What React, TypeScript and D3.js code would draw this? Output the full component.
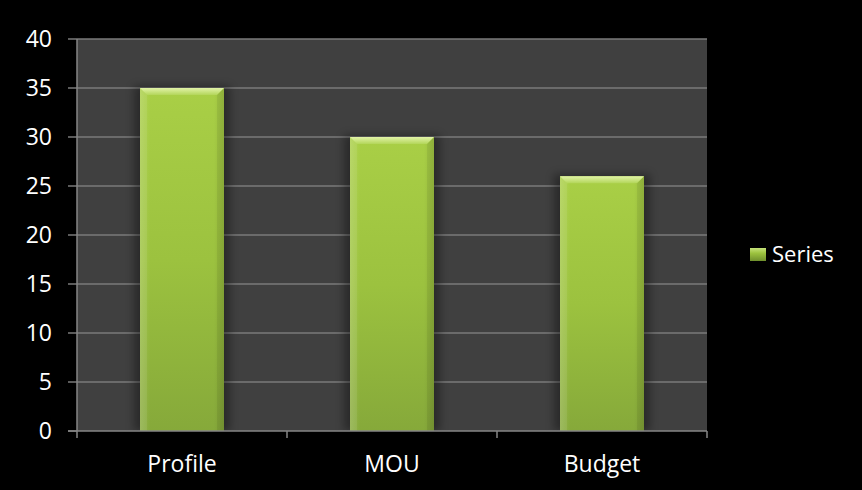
import React from "react";
import * as d3 from "d3";

const categories = ["Profile", "MOU", "Budget"];
const values = [35, 30, 26];
const yTicks = [0, 5, 10, 15, 20, 25, 30, 35, 40];
const seriesName = "Series";

const W = 862;
const H = 490;
const plot = { left: 77, right: 707, top: 39, bottom: 431 };
const FONT = "'Open Sans', Lato, sans-serif";

export default function App() {
  const x = d3
    .scaleBand<string>()
    .domain(categories)
    .range([plot.left, plot.right])
    .paddingInner(0.6)
    .paddingOuter(0.3);
  const band = d3.scaleBand<string>().domain(categories).range([plot.left, plot.right]);
  const y = d3.scaleLinear().domain([0, 40]).range([plot.bottom, plot.top]);
  const boundaries = [plot.left, ...categories.map((c) => (band(c) as number) + band.bandwidth())];

  return (
    <div style={{ position: "absolute", left: 0, top: 0, width: W, height: H, background: "#000" }}>
      <svg width={W} height={H} style={{ display: "block" }}>
        <defs>
          <linearGradient id="barGrad" x1="0" y1="0" x2="0" y2="1">
            <stop offset="0" stopColor="#a9cf46" />
            <stop offset="0.5" stopColor="#9cc23f" />
            <stop offset="1" stopColor="#86a93a" />
          </linearGradient>
          <linearGradient id="sideGrad" x1="0" y1="0" x2="1" y2="0">
            <stop offset="0" stopColor="#ffffff" stopOpacity="0.12" />
            <stop offset="0.12" stopColor="#ffffff" stopOpacity="0" />
            <stop offset="0.88" stopColor="#000000" stopOpacity="0" />
            <stop offset="1" stopColor="#000000" stopOpacity="0.1" />
          </linearGradient>
          <linearGradient id="topGrad" x1="0" y1="0" x2="0" y2="1">
            <stop offset="0" stopColor="#e2f3a8" />
            <stop offset="1" stopColor="#b3d65a" />
          </linearGradient>
          <filter id="shadow" x="-30%" y="-10%" width="160%" height="120%">
            <feGaussianBlur stdDeviation="4" />
          </filter>
          <linearGradient id="legGrad" x1="0" y1="0" x2="0" y2="1">
            <stop offset="0" stopColor="#c6e27a" />
            <stop offset="0.4" stopColor="#9cc23f" />
            <stop offset="1" stopColor="#6f8f2c" />
          </linearGradient>
        </defs>
        <rect x={plot.left} y={plot.top} width={plot.right - plot.left} height={plot.bottom - plot.top} fill="#404040" />
        {yTicks.map((t) => (
          <g key={t}>
            {t > 0 && (
              <line x1={plot.left} x2={plot.right} y1={y(t)} y2={y(t)} stroke="#7a7a7a" strokeWidth={1.5} />
            )}
            <line x1={plot.left - 9} x2={plot.left} y1={y(t)} y2={y(t)} stroke="#7a7a7a" strokeWidth={1.5} />
            <text x={52} y={y(t)} dy="0.36em" textAnchor="end" fill="#ffffff" fontFamily={FONT} fontSize={23}>
              {t}
            </text>
          </g>
        ))}
        {categories.map((c, i) => {
          const bx = x(c) as number;
          const bw = x.bandwidth();
          const by = y(values[i]);
          const bh = plot.bottom - by;
          const bev = 7;
          return (
            <g key={c}>
              <rect x={bx - 6} y={by - 2} width={bw + 12} height={bh + 2} fill="#000" opacity={0.35} filter="url(#shadow)" />
              <rect x={bx} y={by} width={bw} height={bh} fill="url(#barGrad)" />
              <rect x={bx} y={by} width={bw} height={bh} fill="url(#sideGrad)" />
              <path
                d={`M${bx},${by} L${bx + bw},${by} L${bx + bw - bev},${by + bev} L${bx + bev},${by + bev} Z`}
                fill="url(#topGrad)"
              />
              <path d={`M${bx},${by} L${bx + bev},${by + bev} L${bx + bev},${plot.bottom} L${bx},${plot.bottom} Z`} fill="#ffffff" opacity={0.08} />
              <path d={`M${bx + bw},${by} L${bx + bw - bev},${by + bev} L${bx + bw - bev},${plot.bottom} L${bx + bw},${plot.bottom} Z`} fill="#000000" opacity={0.06} />
              <text
                x={(band(c) as number) + band.bandwidth() / 2}
                y={472}
                textAnchor="middle"
                fill="#ffffff"
                fontFamily={FONT}
                fontSize={23}
              >
                {c}
              </text>
            </g>
          );
        })}
        <line x1={plot.left} x2={plot.left} y1={plot.top} y2={plot.bottom} stroke="#868686" strokeWidth={1.5} />
        <line x1={plot.left - 9} x2={plot.right} y1={plot.bottom} y2={plot.bottom} stroke="#868686" strokeWidth={1.5} />
        {boundaries.map((b, i) => (
          <line key={i} x1={b} x2={b} y1={plot.bottom} y2={plot.bottom + 7} stroke="#868686" strokeWidth={1.5} />
        ))}
        <rect x={750} y={248} width={16} height={13} fill="url(#legGrad)" />
        <text x={772} y={262} fill="#ffffff" fontFamily={FONT} fontSize={22}>
          {seriesName}
        </text>
      </svg>
    </div>
  );
}
